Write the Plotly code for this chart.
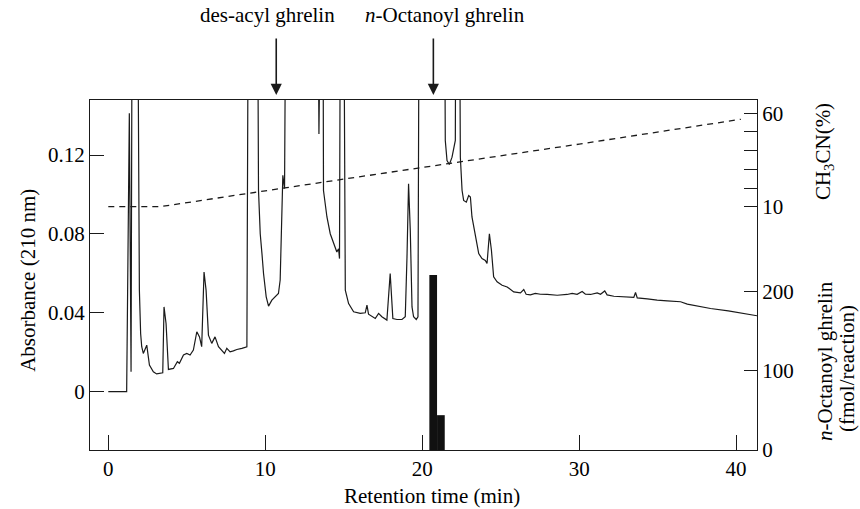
import plotly.graph_objects as go

# ---- data ----
HI = 0.3  # off-scale (clipped at top of the plot)
time_min = [0.00, 1.17, 1.34, 1.45, 1.55, 1.81, 1.90, 1.98, 2.06, 2.13, 2.23, 2.34, 2.45, 2.62, 2.87,
            3.08, 3.40, 3.47, 3.55, 3.68, 3.83, 4.15, 4.40, 4.53, 4.79, 5.00, 5.21, 5.42, 5.64, 5.81,
            5.95, 6.10, 6.23, 6.38, 6.59, 6.80, 7.02, 7.23, 7.40, 7.55, 7.76, 7.97, 8.19, 8.51, 8.83,
            8.96, 9.46, 9.57, 9.68, 9.79, 9.89, 10.06, 10.21, 10.42, 10.74, 10.84, 10.95, 11.06, 11.12,
            11.23, 11.37, 13.29, 13.42, 13.50, 13.65, 13.71, 13.93, 14.14, 14.46, 14.56, 14.67, 14.73,
            14.82, 14.95, 15.10, 15.31, 15.63, 16.05, 16.37, 16.48, 16.58, 16.80, 17.01, 17.22, 17.43,
            17.75, 17.96, 18.13, 18.39, 18.71, 18.92, 19.03, 19.13, 19.24, 19.35, 19.45, 19.62, 19.73,
            19.84, 21.37, 21.47, 21.58, 21.73, 21.90, 22.11, 22.17, 22.32, 22.43, 22.54, 22.64, 22.81,
            22.96, 23.07, 23.17, 23.39, 23.60, 23.81, 24.02, 24.13, 24.28, 24.41, 24.55, 24.77, 25.09,
            25.41, 25.62, 25.83, 26.26, 26.47, 26.62, 26.89, 27.21, 27.53, 27.96, 28.60, 29.23, 29.55,
            29.87, 30.19, 30.40, 30.72, 31.15, 31.36, 31.63, 31.78, 32.21, 32.84, 33.48, 33.59, 33.70,
            34.34, 34.97, 35.61, 36.46, 36.89, 37.53, 38.37, 39.50, 40.50, 41.33]
absorbance = [0.0, 0.0, 0.1412, 0.0101, HI, HI, 0.16, 0.0515, 0.0295, 0.0228, 0.0194, 0.0211, 0.0236,
              0.0135, 0.0101, 0.0090, 0.0093, 0.0096, 0.0430, 0.0346, 0.0113, 0.0118, 0.0152, 0.0144,
              0.0186, 0.0194, 0.0186, 0.0211, 0.0304, 0.0278, 0.0228, 0.0607, 0.0515, 0.0287, 0.0245,
              0.0278, 0.0228, 0.0211, 0.0194, 0.0220, 0.0202, 0.0207, 0.0214, 0.0220, 0.0228,
              HI, HI, 0.102, 0.0801, 0.0700, 0.0599, 0.0481, 0.0434, 0.0464, 0.0494, 0.0498, 0.0566,
              0.100, 0.1097, 0.103, HI, HI, 0.1307, HI, HI, 0.102, 0.0886, 0.0801, 0.0734, 0.0708,
              0.0725, 0.0675, HI, HI, 0.0515, 0.0447, 0.0405, 0.0397, 0.0400, 0.0439, 0.0393, 0.0380,
              0.0371, 0.0397, 0.0380, 0.0363, 0.0599, 0.0371, 0.0366, 0.0366, 0.0380, 0.0683, 0.1054,
              0.0818, 0.0430, 0.0380, 0.0366, 0.0380, HI, HI, 0.1274, 0.1172, 0.1152, 0.1189, 0.1274,
              HI, HI, 0.1189, 0.102, 0.0970, 0.0961, 0.0995, 0.0987, 0.0886, 0.0784, 0.0700, 0.0675,
              0.0666, 0.0650, 0.0801, 0.0717, 0.0582, 0.0557, 0.0540, 0.0531, 0.0518, 0.0506, 0.0501,
              0.0518, 0.0494, 0.0491, 0.0498, 0.0494, 0.0493, 0.0489, 0.0493, 0.0498, 0.0494, 0.0508,
              0.0494, 0.0493, 0.0501, 0.0494, 0.0511, 0.0491, 0.0484, 0.0481, 0.0478, 0.0503, 0.0476,
              0.0471, 0.0464, 0.0461, 0.0456, 0.0444, 0.0434, 0.0422, 0.0410, 0.0395, 0.0385]

gradient_time = [0.0, 3.3, 10.0, 20.0, 30.0, 40.3]
gradient_ch3cn = [10.0, 10.0, 18.5, 31.0, 43.5, 56.8]

bar_time = [20.70, 21.19]
bar_width = [0.49, 0.49]
octanoyl_fmol = [221, 44]

x_ticks = [0, 10, 20, 30, 40]
abs_ticks = [0, 0.04, 0.08, 0.12]
abs_tick_text = ["0", "0.04", "0.08", "0.12"]
fmol_ticks = [0, 100, 200]
ch3cn_ticks = [10, 20, 30, 40, 50, 60]
ch3cn_tick_text = ["10", "", "", "", "", "60"]

FONT = "Liberation Serif"
FS = 21
INK = "#1a1a1a"

fig = go.Figure()
fig.add_trace(go.Bar(x=bar_time, y=octanoyl_fmol, width=bar_width, yaxis="y2",
                     marker=dict(color="#111111", line=dict(width=0))))
fig.add_trace(go.Scatter(x=time_min, y=absorbance, mode="lines", yaxis="y",
                         line=dict(color=INK, width=1.2)))
fig.add_trace(go.Scatter(x=gradient_time, y=gradient_ch3cn, mode="lines", yaxis="y3",
                         line=dict(color=INK, width=1.3, dash="6px,5px")))

axis_common = dict(showline=True, linecolor=INK, linewidth=1.3, ticks="inside",
                   tickcolor=INK, tickwidth=1.2, showgrid=False, zeroline=False,
                   tickfont=dict(family=FONT, size=FS, color="black"))

fig.update_layout(
    width=860, height=509,
    margin=dict(l=90, r=103, t=100, b=59),
    paper_bgcolor="white", plot_bgcolor="white",
    showlegend=False,
    font=dict(family=FONT, size=FS, color="black"),
    xaxis=dict(range=[-1.166, 41.33], tickvals=x_ticks, ticklen=15, mirror=True, **axis_common),
    yaxis=dict(range=[-0.02956, 0.1479], tickvals=abs_ticks, ticktext=abs_tick_text,
               ticklen=14, mirror=True, **axis_common),
    yaxis2=dict(range=[0, 442.2], tickvals=fmol_ticks, overlaying="y", side="right",
                anchor="x", ticklen=13, **axis_common),
    yaxis3=dict(range=[-120.25, 67.12], tickvals=ch3cn_ticks, ticktext=ch3cn_tick_text,
                overlaying="y", side="right", anchor="x", ticklen=13, **axis_common),
)

ann_font = dict(family=FONT, size=FS, color="black")


def px_x(p):
    return (p - 90) / 667


def px_y(p):
    return (450 - p) / 350


annotations = [
    dict(text="Retention time (min)", xref="paper", yref="paper", x=0.513, y=-0.131,
         showarrow=False, font=ann_font, xanchor="center", yanchor="middle"),
    dict(text="Absorbance (210 nm)", xref="paper", yref="paper", x=-0.093, y=0.486,
         showarrow=False, font=ann_font, textangle=-90, xanchor="center", yanchor="middle"),
    dict(text="CH<sub>3</sub>CN(%)", xref="paper", yref="paper", x=1.1004, y=0.854,
         showarrow=False, font=ann_font, textangle=-90, xanchor="center", yanchor="middle"),
    dict(text="<i>n</i>-Octanoyl ghrelin", xref="paper", yref="paper",
         x=px_x(825), y=px_y(361), showarrow=False, font=ann_font, textangle=-90,
         xanchor="center", yanchor="middle"),
    dict(text="(fmol/reaction)", xref="paper", yref="paper",
         x=px_x(847), y=px_y(369), showarrow=False, font=ann_font, textangle=-90,
         xanchor="center", yanchor="middle"),
    dict(text="des-acyl ghrelin", xref="paper", yref="paper", x=px_x(267),
         y=px_y(15), showarrow=False, font=ann_font, xanchor="center", yanchor="middle"),
    dict(text="<i>n</i>-Octanoyl ghrelin", xref="paper", yref="paper", x=px_x(445),
         y=px_y(15), showarrow=False, font=ann_font, xanchor="center", yanchor="middle"),
]
for t_arrow in [10.70, 20.71]:
    annotations.append(dict(text="", x=t_arrow, xref="x", y=px_y(95), yref="paper",
                            showarrow=True, ax=0, ay=-58, axref="pixel", ayref="pixel",
                            arrowhead=2, arrowsize=1.4, arrowwidth=1.6, arrowcolor=INK,
                            standoff=0))
fig.update_layout(annotations=annotations)

fig.write_html("out.html", config={"displayModeBar": False},
               post_script="document.body.style.margin='0';document.body.style.overflow='hidden';")
